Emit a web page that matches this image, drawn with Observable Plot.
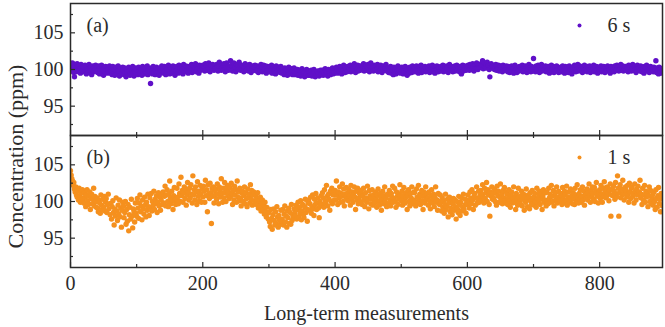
<!DOCTYPE html>
<html>
<head>
<meta charset="utf-8">
<script src="https://cdn.jsdelivr.net/npm/d3@7"></script>
<script src="https://cdn.jsdelivr.net/npm/@observablehq/plot@0.6"></script>
<style>
  body { margin: 0; background: #fff; }
  #chart { width: 665px; height: 327px; position: relative; }
  #chart svg { display: block; overflow: visible; }
</style>
</head>
<body>
<div id="chart"></div>
<script>
// Concentration readings (ppm), one per measurement index, 6 s averaging time
const conc6s = [
  100.6,100.2,99.8,100.9,100.1,99.6,99.0,100.4,100.0,99.7,100.8,100.3,99.9,100.5,100.1,99.5,100.7,100.2,99.8,100.4,
  99.7,100.3,100.6,99.9,99.4,100.2,100.0,99.6,100.7,100.1,99.8,100.4,99.3,100.0,100.5,99.7,100.2,99.9,100.6,100.1,
  100.3,99.6,99.9,100.5,99.4,100.1,99.8,100.6,99.5,100.0,99.2,100.2,99.7,100.4,99.9,99.5,100.3,100.0,99.6,100.5,
  99.5,100.1,99.8,99.3,100.4,99.7,100.0,99.2,99.9,100.3,99.6,99.4,100.5,99.8,99.1,100.2,99.7,100.0,99.5,100.3,
  99.9,99.3,100.2,99.6,99.0,100.0,99.7,99.4,100.3,99.8,99.2,100.1,99.5,99.9,100.4,99.6,99.1,99.8,100.2,99.4,
  100.0,99.6,99.3,100.3,99.8,99.5,100.1,99.9,99.2,100.4,99.7,100.0,99.4,99.8,100.2,99.6,100.5,99.3,99.9,100.1,
  99.7,98.1,100.2,99.9,99.4,100.4,99.6,100.0,99.3,99.8,100.3,99.5,100.1,99.7,99.2,100.2,99.9,99.6,100.5,99.8,
  100.1,99.5,100.4,99.8,99.3,100.2,100.0,99.6,100.6,99.9,99.4,100.3,99.7,100.1,99.5,100.5,99.8,100.0,99.2,100.3,
  99.8,100.4,100.1,99.5,100.6,99.9,100.2,99.6,100.3,100.0,99.4,100.7,99.8,100.2,100.5,99.7,100.0,100.4,99.5,100.1,
  100.4,99.8,100.2,100.7,99.6,100.1,100.5,99.9,100.3,100.8,99.7,100.0,100.4,100.2,99.5,100.6,100.1,99.9,100.5,100.3,
  100.6,100.0,100.4,99.8,100.8,100.2,100.5,99.9,100.3,100.9,100.1,99.7,100.6,100.3,100.0,100.7,100.4,99.9,100.5,100.2,
  100.1,100.7,100.3,99.8,100.5,101.0,100.2,100.4,99.9,100.6,100.3,100.0,100.8,100.2,99.7,100.5,100.9,100.1,100.4,99.9,
  100.5,100.2,101.2,100.0,100.6,99.8,100.4,100.9,100.1,100.3,99.7,100.7,100.2,100.5,100.0,101.0,100.3,99.9,100.6,100.2,
  100.0,100.5,99.7,100.3,100.8,100.1,99.9,100.4,100.6,99.8,100.2,100.7,100.0,99.6,100.4,100.1,100.5,99.9,100.3,100.6,
  100.3,99.8,100.5,100.0,99.6,100.4,100.2,99.9,100.7,100.1,99.7,100.3,100.6,99.8,100.0,100.5,99.5,100.2,100.4,99.9,
  100.2,99.7,100.4,99.9,100.6,99.5,100.1,100.3,99.8,100.0,99.4,100.5,100.2,99.7,100.3,99.9,100.1,99.6,100.4,99.8,
  99.5,100.1,99.7,99.3,100.2,99.8,99.6,100.0,99.2,99.9,100.3,99.5,99.8,99.4,100.1,99.7,99.3,99.9,100.2,99.6,
  99.3,99.8,99.5,100.0,99.2,99.7,99.4,99.9,99.1,99.6,100.1,99.3,99.8,99.5,99.0,99.7,99.4,100.0,99.6,99.2,
  99.8,99.2,99.6,99.4,99.9,99.1,99.5,99.3,100.0,99.6,99.0,99.7,99.4,99.2,99.8,99.5,99.1,99.6,99.9,99.3,
  99.4,99.9,99.2,99.7,99.5,100.1,99.3,99.8,99.6,99.1,100.0,99.5,99.7,99.3,99.9,99.6,100.2,99.4,99.8,99.5,
  100.1,99.6,100.3,99.8,99.5,100.2,99.9,100.4,99.7,100.0,99.4,100.3,99.8,100.6,99.9,99.6,100.2,100.0,99.7,100.4,
  99.8,100.4,100.1,100.6,99.7,100.2,100.5,99.9,100.3,100.8,100.0,99.6,100.4,100.1,100.6,99.8,100.2,100.5,99.9,100.3,
  100.5,100.0,100.3,100.8,99.8,100.4,100.1,100.6,99.9,100.3,100.7,100.2,99.7,100.5,100.9,100.0,100.4,100.2,99.8,100.6,
  100.3,99.9,100.5,100.0,100.7,99.7,100.2,100.4,99.8,100.6,100.1,99.6,100.3,100.0,100.5,99.9,100.2,100.7,99.8,100.1,
  100.2,99.6,100.0,99.8,100.4,99.5,100.1,99.9,99.3,100.3,99.7,100.0,99.4,100.2,99.8,100.5,99.6,99.9,100.1,99.5,
  99.7,100.3,99.9,99.4,100.1,99.8,100.4,99.6,100.0,99.2,100.2,99.9,99.5,100.3,99.7,100.0,99.6,100.5,99.8,100.1,
  100.3,99.7,100.1,100.5,99.8,100.0,99.5,100.4,100.2,99.9,100.6,99.6,100.1,100.3,99.8,100.0,100.4,99.7,100.2,99.9,
  99.8,100.2,100.5,99.6,100.0,100.3,99.9,100.6,99.7,100.1,100.4,99.5,100.2,99.9,100.5,100.0,99.7,100.3,100.1,99.8,
  100.4,99.9,100.2,100.6,99.7,100.1,100.4,100.0,99.8,100.5,100.2,99.6,100.3,100.7,100.0,99.9,100.4,100.1,99.7,100.3,
  100.0,100.5,99.8,100.2,100.6,99.9,100.3,100.1,99.7,100.4,100.0,99.4,100.3,100.6,99.8,100.2,100.5,100.0,99.9,100.4,
  100.1,100.6,100.3,99.9,100.7,100.2,100.5,100.0,100.8,100.3,99.8,100.4,100.6,100.1,100.9,100.2,100.0,100.5,100.3,100.7,
  100.3,100.8,100.5,101.2,100.1,100.6,100.9,100.4,100.2,100.7,101.0,100.3,100.6,100.0,99.0,100.5,100.8,100.2,100.6,100.4,
  100.5,100.0,100.3,100.7,99.9,100.4,100.1,100.6,99.8,100.2,100.5,100.0,100.3,99.7,100.6,100.1,100.4,99.9,100.2,100.5,
  100.2,99.7,100.4,100.0,99.6,100.3,99.9,100.5,99.8,100.1,99.5,100.2,100.6,99.9,100.0,99.6,100.3,100.1,99.8,100.4,
  99.9,100.3,100.0,100.6,99.7,100.2,100.4,99.8,100.5,100.1,99.6,100.3,100.0,100.7,99.9,100.2,99.7,100.4,100.1,99.8,
  101.5,100.0,100.3,99.7,100.5,100.1,99.9,100.6,100.2,99.6,100.4,100.0,100.7,99.8,100.2,100.4,99.9,100.1,100.5,99.7,
  100.2,99.8,100.4,100.0,99.5,100.3,99.9,100.6,99.7,100.1,100.4,99.6,100.0,100.3,99.8,100.5,99.9,100.2,99.6,100.1,
  99.9,100.3,99.7,100.1,100.5,99.8,100.2,99.5,100.4,100.0,99.7,100.3,100.1,99.6,100.5,99.9,100.2,100.0,99.4,100.3,
  100.3,99.9,100.6,100.1,99.7,100.4,100.0,100.7,99.8,100.2,100.5,99.9,100.3,100.1,99.6,100.4,100.2,100.6,99.9,100.0,
  100.1,99.7,100.4,99.9,100.2,100.5,99.6,100.0,100.3,99.8,100.1,100.6,99.7,100.2,99.9,100.4,100.0,99.5,100.3,100.1,
  99.8,100.2,100.5,99.7,100.1,99.9,100.4,100.0,99.6,100.3,100.1,99.8,100.5,99.9,100.2,100.0,99.5,100.4,100.1,99.8,
  100.3,100.0,99.7,100.5,100.2,99.9,100.6,100.1,100.3,99.8,100.4,100.0,100.7,99.9,100.2,100.5,99.8,100.3,100.1,100.4,
  99.9,100.4,100.2,99.7,100.6,100.0,100.3,100.5,99.8,100.1,100.7,99.9,100.2,100.4,100.0,99.6,100.3,100.6,100.1,99.9,
  100.2,99.8,100.5,100.0,99.7,100.3,100.1,99.5,100.4,99.9,100.2,100.6,99.8,100.0,100.3,99.6,100.1,100.4,99.9,100.2,
  100.0,99.7,100.3,99.8,100.1,101.2,99.6,100.2,99.9,99.4,100.3,100.0,99.7,100.1,99.5,99.9,100.2,99.8,100.0,99.6
];

// Concentration readings (ppm), one per measurement index, 1 s averaging time
const conc1s = [
  104.2,103.6,103.1,102.8,102.2,102.6,101.7,101.3,102.0,100.9,100.6,101.5,100.2,101.8,100.8,99.9,101.2,100.5,101.6,100.3,
  99.8,101.2,100.6,99.3,100.9,101.6,100.1,99.6,100.8,101.3,98.9,100.4,101.0,99.7,100.3,101.8,99.4,100.7,100.0,99.2,
  100.5,99.1,98.6,100.2,99.8,98.4,100.9,99.5,98.9,100.3,99.2,100.7,98.7,99.9,100.4,98.5,99.6,101.0,99.0,99.7,
  98.2,99.7,97.6,99.3,100.1,98.5,96.8,99.0,98.0,100.5,98.7,97.4,99.5,98.3,100.2,97.9,99.1,96.5,98.8,99.9,
  99.4,97.8,98.5,100.0,96.9,98.9,97.3,99.6,96.0,98.2,99.2,97.6,100.3,98.0,96.4,99.0,98.6,97.2,99.8,98.4,
  98.0,100.4,99.1,97.7,99.8,100.9,98.6,99.4,97.5,100.2,99.0,98.3,100.6,99.5,97.9,99.9,98.8,101.0,99.3,98.1,
  100.5,99.2,101.1,98.7,100.0,99.5,101.4,98.9,100.3,99.7,100.8,98.5,99.9,101.2,99.4,100.6,98.8,100.2,101.0,99.6,
  101.3,99.8,100.7,102.1,99.4,100.9,101.6,100.0,99.3,101.0,102.8,100.4,99.7,101.4,100.2,98.9,100.8,101.9,100.1,99.6,
  100.3,101.8,100.6,99.7,102.4,101.1,100.0,103.3,100.8,101.5,99.9,101.2,102.0,100.4,101.7,99.5,100.9,102.6,101.3,100.2,
  101.8,100.5,102.3,101.0,99.8,103.5,100.9,101.6,100.2,102.0,101.3,99.6,102.7,100.7,101.4,100.1,102.2,101.0,99.9,101.7,
  100.6,102.1,101.4,99.9,102.9,100.8,101.6,98.6,102.3,101.0,100.4,102.5,101.2,97.0,101.8,100.7,102.0,99.8,101.5,100.9,
  101.7,100.3,102.4,101.0,99.7,102.0,101.4,100.6,103.1,101.1,99.9,101.8,100.5,102.6,101.2,100.0,101.6,102.2,100.8,101.3,
  100.4,101.9,100.7,102.5,101.1,99.6,101.5,100.2,102.1,100.9,101.6,99.9,102.8,100.6,101.3,100.1,101.8,100.5,99.4,101.2,
  101.4,100.0,100.8,102.0,99.7,101.2,100.4,99.3,101.7,100.6,101.0,99.8,102.3,100.3,101.5,99.5,100.9,101.3,100.1,99.9,
  100.8,99.6,100.3,101.2,99.1,100.0,99.4,100.6,98.7,99.8,100.2,98.9,99.5,98.3,99.9,98.6,97.9,99.2,98.4,97.6,
  98.5,97.2,96.6,98.9,97.7,96.2,98.2,99.0,97.4,96.8,98.6,97.0,99.3,97.9,96.5,98.1,97.5,96.9,98.8,97.3,
  97.6,98.9,96.8,98.3,99.4,97.2,98.0,96.5,98.7,97.8,99.1,97.0,98.5,96.9,99.6,97.4,98.2,97.7,99.0,98.4,
  98.0,99.5,97.6,98.9,99.9,97.9,99.2,98.4,100.1,97.5,98.7,99.6,98.2,97.8,99.3,100.3,98.5,99.0,97.3,99.8,
  100.2,98.8,99.7,100.6,98.4,99.3,100.9,99.0,98.1,100.3,99.6,101.1,98.9,99.8,100.5,99.1,97.8,100.0,99.4,100.8,
  99.6,101.2,100.5,99.2,101.6,100.1,99.8,102.2,100.7,99.4,101.0,100.3,98.8,101.4,100.0,101.8,99.7,100.9,101.3,100.2,
  101.5,100.2,102.8,100.9,99.6,101.3,100.5,102.0,99.9,101.1,100.7,102.4,100.0,101.7,99.4,101.0,100.6,101.9,100.3,101.2,
  100.1,101.6,100.8,99.5,102.2,100.4,101.3,99.9,100.9,102.0,100.6,98.9,101.4,100.2,101.8,99.7,100.5,101.1,100.0,101.5,
  101.0,99.6,100.7,101.8,100.2,99.3,101.2,100.5,99.9,102.1,100.3,99.0,101.5,100.8,99.7,100.4,101.6,99.5,100.9,100.1,
  99.8,101.3,100.4,99.2,100.9,101.7,100.0,99.5,101.1,100.6,98.8,100.2,101.4,99.7,100.8,102.0,99.9,100.5,99.3,101.0,
  100.9,99.7,101.5,100.2,99.4,101.1,100.6,102.1,99.9,100.4,101.8,100.0,99.2,101.3,100.7,99.6,101.0,100.3,102.3,100.8,
  100.1,101.4,99.5,100.8,101.9,100.3,99.8,101.2,100.6,98.9,100.9,101.6,100.0,99.4,101.1,100.5,102.0,99.7,100.2,101.3,
  101.2,100.0,99.4,101.7,100.6,99.9,102.2,100.4,101.0,99.6,100.8,101.5,100.1,98.9,101.3,100.7,99.8,102.0,100.3,101.1,
  100.5,99.5,101.3,100.1,99.0,100.8,101.6,99.8,100.4,101.0,99.3,100.6,102.0,99.9,100.2,98.8,101.1,100.0,99.6,100.9,
  99.9,98.7,100.5,99.2,100.1,98.4,99.6,101.0,98.9,99.4,100.3,97.9,99.8,100.6,98.6,99.1,100.0,98.2,99.7,100.4,
  98.8,100.2,99.3,97.6,100.0,99.0,98.5,100.7,99.6,98.1,99.9,100.5,98.7,99.2,101.0,98.9,99.5,100.3,98.4,99.8,
  99.6,100.9,100.0,99.1,101.3,100.4,99.7,101.6,100.2,98.9,100.7,101.1,99.5,100.5,102.0,99.8,100.3,101.4,99.9,100.8,
  101.5,100.2,101.0,102.3,100.6,99.8,101.8,100.4,101.2,102.6,100.0,101.6,100.9,99.6,98.0,101.3,100.7,102.0,100.3,101.1,
  100.4,101.7,100.0,101.2,99.5,102.1,100.8,101.4,99.9,100.6,102.4,100.2,101.0,99.7,101.5,100.5,101.9,100.1,99.8,101.3,
  101.0,99.6,100.5,101.6,100.1,99.2,100.9,101.3,99.8,100.4,102.0,99.9,100.7,98.9,101.1,100.2,99.5,101.8,100.6,100.0,
  99.7,100.8,101.4,99.4,100.3,101.0,98.8,100.6,99.9,101.7,100.2,99.3,100.9,100.5,99.0,101.2,100.0,99.6,101.5,100.4,
  100.6,99.5,101.1,100.0,99.2,101.8,100.4,99.8,100.9,101.4,99.6,100.3,101.0,98.9,100.7,101.6,99.9,100.2,101.2,99.4,
  101.3,100.1,99.7,101.8,100.5,101.0,99.9,102.2,100.7,100.0,101.5,99.4,100.9,101.2,100.3,102.0,99.8,100.6,101.4,100.2,
  100.0,101.1,100.7,99.6,101.9,100.3,99.8,101.4,100.9,100.1,102.1,99.5,100.6,101.3,100.2,99.9,101.7,100.4,100.8,99.7,
  101.2,100.4,99.6,101.8,100.9,100.0,102.3,100.6,99.8,101.1,100.3,101.6,99.9,100.7,102.0,100.2,101.4,99.5,100.8,101.0,
  100.5,101.7,100.2,101.2,102.4,100.8,99.9,101.5,100.6,102.0,101.1,100.3,101.9,100.0,101.4,102.6,100.7,101.0,99.8,101.3,
  101.6,100.4,102.2,101.0,99.9,101.8,100.7,102.7,101.3,100.5,101.9,100.8,102.0,101.2,100.1,101.5,102.4,98.0,100.9,101.7,
  100.8,102.1,101.4,100.3,102.6,101.0,100.6,103.5,101.8,98.0,101.2,102.3,100.5,101.7,100.9,102.9,101.1,100.2,101.6,102.0,
  101.5,100.6,102.2,101.0,99.9,102.5,101.3,100.4,101.8,102.0,100.7,101.1,99.8,102.4,101.4,100.2,101.7,100.9,102.1,101.0,
  101.3,102.9,100.5,101.0,99.6,101.8,100.2,100.9,102.2,99.9,101.4,100.6,101.1,99.3,100.8,102.0,100.0,101.5,99.7,100.4,
  100.9,99.5,101.3,100.0,98.9,101.6,100.4,99.2,100.8,101.9,99.7,100.3,98.6,101.1,100.5,99.4,100.9,99.8,100.2,101.2
];

const xTicks = [0, 200, 400, 600, 800];
const xMinorTicks = [100, 300, 500, 700];
const yTicks = [95, 100, 105];
const yMinorTicks = [92.5, 97.5, 102.5, 107.5];

const xDomain = [0, 895];
const yDomain = [91, 109];

const panels = [
  {tag: "(a)", label: "6 s", values: conc6s, color: "#6010c8"},
  {tag: "(b)", label: "1 s", values: conc1s, color: "#f5901e"}
];

const W = 665, ML = 70, MR = 3;
const innerW = W - ML - MR;
const innerH = 132;
const ink = "#2b2b2b";
const font = "'Liberation Serif', 'Times New Roman', serif";

function drawPanel(p, isBottom) {
  const data = p.values.map((v, i) => ({i, v}));
  const marks = [
    Plot.dot(data, {x: "i", y: "v", r: 2.7, fill: p.color, clip: true}),
    Plot.frame({stroke: ink, strokeWidth: 1.5}),
    // inward ticks along the bottom edge
    Plot.tickX(xTicks, {x: d => d, insetTop: innerH - 5, stroke: ink, strokeWidth: 1.2}),
    Plot.tickX(xMinorTicks, {x: d => d, insetTop: innerH - 3, stroke: ink, strokeWidth: 1.2}),
    // inward ticks along the left edge
    Plot.tickY(yTicks, {y: d => d, insetRight: innerW - 5, stroke: ink, strokeWidth: 1.2}),
    Plot.tickY(yMinorTicks, {y: d => d, insetRight: innerW - 3, stroke: ink, strokeWidth: 1.2}),
    Plot.axisY(yTicks, {tickSize: 0, tickPadding: 7, fontSize: 20, label: null}),
    Plot.text([p.tag], {frameAnchor: "top-left", dx: 16, dy: 22, textAnchor: "start", lineAnchor: "middle", fontSize: 20}),
    Plot.dot([p.label], {frameAnchor: "top-right", dx: -83, dy: 22, r: 2, fill: p.color}),
    Plot.text([p.label], {frameAnchor: "top-right", dx: -55, dy: 22, textAnchor: "start", lineAnchor: "middle", fontSize: 20})
  ];
  if (isBottom) {
    marks.push(
      // inward ticks along the shared top edge of the lower panel
      Plot.tickX(xTicks, {x: d => d, insetBottom: innerH - 5, stroke: ink, strokeWidth: 1.2}),
      Plot.tickX(xMinorTicks, {x: d => d, insetBottom: innerH - 3, stroke: ink, strokeWidth: 1.2}),
      Plot.axisX(xTicks, {tickSize: 0, tickPadding: 8, fontSize: 20, label: null}),
      Plot.text(["Long-term measurements"], {frameAnchor: "bottom", dy: 46, lineAnchor: "middle", fontSize: 20}),
      Plot.text(["Concentration (ppm)"], {frameAnchor: "top-left", dx: -55, dy: 21, rotate: -90, textAnchor: "middle", lineAnchor: "middle", fontSize: 22})
    );
  }
  return Plot.plot({
    width: W,
    height: isBottom ? 192 : 135,
    marginLeft: ML,
    marginRight: MR,
    marginTop: isBottom ? 0 : 3,
    marginBottom: isBottom ? 60 : 0,
    style: {fontFamily: font, fontSize: "20px", color: ink, background: "transparent", overflow: "visible"},
    x: {domain: xDomain, axis: null},
    y: {domain: yDomain, axis: null},
    marks
  });
}

const chart = document.getElementById("chart");
chart.append(drawPanel(panels[0], false));
chart.append(drawPanel(panels[1], true));
</script>
</body>
</html>
